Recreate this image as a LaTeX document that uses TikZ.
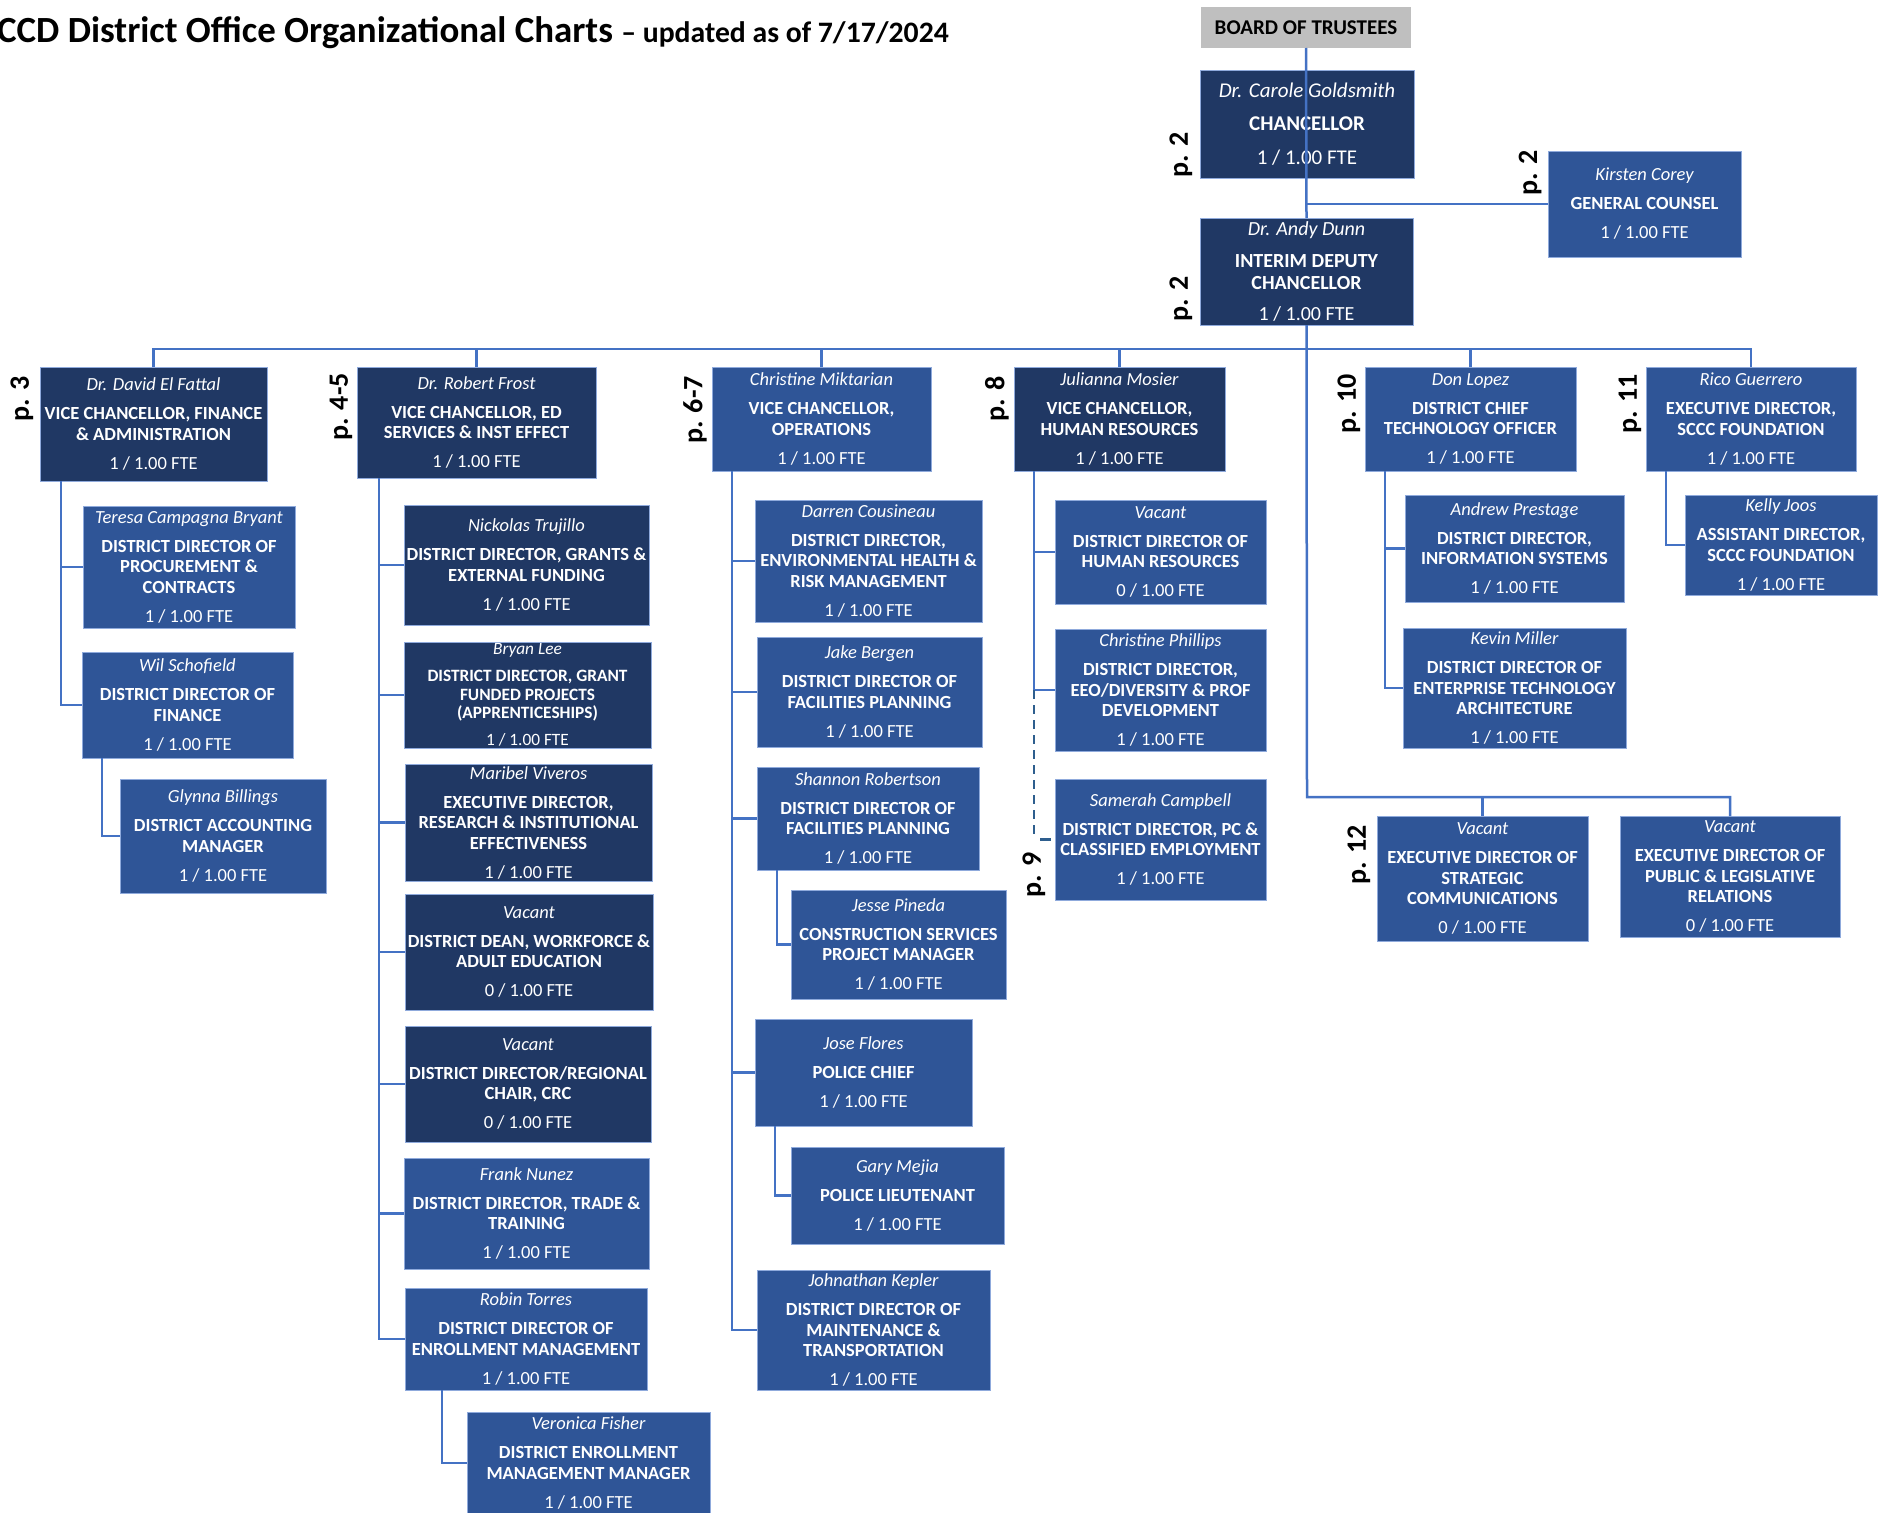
\documentclass[tikz,border=0pt]{standalone}
\usepackage{fontspec}
\setmainfont{Carlito}
\definecolor{dkbox}{HTML}{203864}
\definecolor{ltbox}{HTML}{2F5597}
\definecolor{conn}{HTML}{4472C4}
\definecolor{dashc}{HTML}{2E5E8E}
\definecolor{boardgray}{HTML}{BFBFBF}
\definecolor{boxedge}{HTML}{8FAADC}
\tikzset{
 box/.style={rectangle, draw=boxedge, line width=0.8pt, text=white, align=center,
   inner sep=0pt, outer sep=0pt, font=\fontsize{18.5}{20.5}\selectfont\bfseries},
 dk/.style={fill=dkbox}, lt/.style={fill=ltbox},
 fsm/.style={font=\fontsize{17.3}{18.8}\selectfont\bfseries},
 fchan/.style={font=\fontsize{21}{24}\selectfont\bfseries},
 fint/.style={font=\fontsize{20}{22}\selectfont\bfseries},
 plab/.style={rotate=90, font=\fontsize{28}{30}\selectfont\bfseries, inner sep=0pt},
 cn/.style={draw=conn, line width=2.5pt},
 dcn/.style={draw=dashc, line width=2.5pt, dash pattern=on 9pt off 6pt},
 boardbox/.style={rectangle, fill=boardgray, inner sep=0pt, outer sep=0pt,
   font=\fontsize{21}{24}\selectfont\bfseries},
}
\newcommand\obox[9]{\node[box,#2,minimum width={#5-#3},minimum height={#6-#4}] (#1) at ({(#3+#5)/2},{(#4+#6)/2})
  {{\mdseries\itshape #7}\\[0.46em]#8\\[0.46em]{\mdseries #9}};}
\begin{document}
\begin{tikzpicture}[x=1pt,y=-1pt]
\useasboundingbox (0,0) rectangle (1889,1512);
% title
\node[anchor=base west, inner sep=0pt, font=\bfseries] (title) at (-3,43)
  {\fontsize{36.9}{40}\selectfont CCD District Office Organizational Charts {\fontsize{29.7}{32}\selectfont – updated as of 7/17/2024}};
% top
\node[boardbox, minimum width=210, minimum height=41] (board) at (1306,27.5) {BOARD OF TRUSTEES};
\obox{chan}{dk,fchan}{1200}{70}{1414}{178}{Dr. Carole Goldsmith}{CHANCELLOR}{1 / 1.00 FTE}
\obox{gc}{lt}{1548}{151}{1741}{257}{Kirsten Corey}{GENERAL COUNSEL}{1 / 1.00 FTE}
\obox{interim}{dk,fint}{1200}{218}{1413}{325}{Dr. Andy Dunn}{INTERIM DEPUTY\\CHANCELLOR}{1 / 1.00 FTE}
% VPs
\obox{fattal}{dk}{40}{367}{267}{481}{Dr. David El Fattal}{VICE CHANCELLOR, FINANCE\\\& ADMINISTRATION}{1 / 1.00 FTE}
\obox{frost}{dk}{357}{367}{596}{478}{Dr. Robert Frost}{VICE CHANCELLOR, ED\\SERVICES \& INST EFFECT}{1 / 1.00 FTE}
\obox{mik}{lt}{712}{367}{931}{471}{Christine Miktarian}{VICE CHANCELLOR,\\OPERATIONS}{1 / 1.00 FTE}
\obox{mos}{dk}{1014}{367}{1225}{471}{Julianna Mosier}{VICE CHANCELLOR,\\HUMAN RESOURCES}{1 / 1.00 FTE}
\obox{lopez}{lt}{1365}{367}{1576}{471}{Don Lopez}{DISTRICT CHIEF\\TECHNOLOGY OFFICER}{1 / 1.00 FTE}
\obox{guer}{lt}{1646}{367}{1856}{471}{Rico Guerrero}{EXECUTIVE DIRECTOR,\\SCCC FOUNDATION}{1 / 1.00 FTE}
% Finance
\obox{bryant}{lt}{83}{506}{295}{628}{Teresa Campagna Bryant}{DISTRICT DIRECTOR OF\\PROCUREMENT \&\\CONTRACTS}{1 / 1.00 FTE}
\obox{schof}{lt}{82}{652}{293}{758}{Wil Schofield}{DISTRICT DIRECTOR OF\\FINANCE}{1 / 1.00 FTE}
\obox{bill}{lt}{120}{779}{326}{893}{Glynna Billings}{DISTRICT ACCOUNTING\\MANAGER}{1 / 1.00 FTE}
% Ed services
\obox{truj}{dk}{404}{505}{649}{625}{Nickolas Trujillo}{DISTRICT DIRECTOR, GRANTS \&\\EXTERNAL FUNDING}{1 / 1.00 FTE}
\obox{lee}{dk,fsm}{404}{642}{651}{748}{Bryan Lee}{DISTRICT DIRECTOR, GRANT\\FUNDED PROJECTS\\(APPRENTICESHIPS)}{1 / 1.00 FTE}
\obox{viv}{dk}{405}{764}{652}{881}{Maribel Viveros}{EXECUTIVE DIRECTOR,\\RESEARCH \& INSTITUTIONAL\\EFFECTIVENESS}{1 / 1.00 FTE}
\obox{dean}{dk}{405}{894}{653}{1010}{Vacant}{DISTRICT DEAN, WORKFORCE \&\\ADULT EDUCATION}{0 / 1.00 FTE}
\obox{crc}{dk}{405}{1026}{651}{1142}{Vacant}{DISTRICT DIRECTOR/REGIONAL\\CHAIR, CRC}{0 / 1.00 FTE}
\obox{nunez}{lt}{404}{1158}{649}{1269}{Frank Nunez}{DISTRICT DIRECTOR, TRADE \&\\TRAINING}{1 / 1.00 FTE}
\obox{torres}{lt}{405}{1288}{647}{1390}{Robin Torres}{DISTRICT DIRECTOR OF\\ENROLLMENT MANAGEMENT}{1 / 1.00 FTE}
\obox{fisher}{lt}{467}{1412}{710}{1514}{Veronica Fisher}{DISTRICT ENROLLMENT\\MANAGEMENT MANAGER}{1 / 1.00 FTE}
% Operations
\obox{cous}{lt}{755}{500}{982}{622}{Darren Cousineau}{DISTRICT DIRECTOR,\\ENVIRONMENTAL HEALTH \&\\RISK MANAGEMENT}{1 / 1.00 FTE}
\obox{berg}{lt}{757}{637}{982}{747}{Jake Bergen}{DISTRICT DIRECTOR OF\\FACILITIES PLANNING}{1 / 1.00 FTE}
\obox{rob}{lt}{757}{767}{979}{870}{Shannon Robertson}{DISTRICT DIRECTOR OF\\FACILITIES PLANNING}{1 / 1.00 FTE}
\obox{pin}{lt}{791}{890}{1006}{999}{Jesse Pineda}{CONSTRUCTION SERVICES\\PROJECT MANAGER}{1 / 1.00 FTE}
\obox{flores}{lt}{755}{1019}{972}{1126}{Jose Flores}{POLICE CHIEF}{1 / 1.00 FTE}
\obox{mejia}{lt}{791}{1147}{1004}{1244}{Gary Mejia}{POLICE LIEUTENANT}{1 / 1.00 FTE}
\obox{kep}{lt}{757}{1270}{990}{1390}{Johnathan Kepler}{DISTRICT DIRECTOR OF\\MAINTENANCE \&\\TRANSPORTATION}{1 / 1.00 FTE}
% HR
\obox{hr}{lt}{1055}{500}{1266}{604}{Vacant}{DISTRICT DIRECTOR OF\\HUMAN RESOURCES}{0 / 1.00 FTE}
\obox{phil}{lt}{1055}{629}{1266}{751}{Christine Phillips}{DISTRICT DIRECTOR,\\EEO/DIVERSITY \& PROF\\DEVELOPMENT}{1 / 1.00 FTE}
\obox{camp}{lt}{1055}{779}{1266}{900}{Samerah Campbell}{DISTRICT DIRECTOR, PC \&\\CLASSIFIED EMPLOYMENT}{1 / 1.00 FTE}
% Technology
\obox{prest}{lt}{1405}{495}{1624}{602}{Andrew Prestage}{DISTRICT DIRECTOR,\\INFORMATION SYSTEMS}{1 / 1.00 FTE}
\obox{miller}{lt}{1403}{628}{1626}{748}{Kevin Miller}{DISTRICT DIRECTOR OF\\ENTERPRISE TECHNOLOGY\\ARCHITECTURE}{1 / 1.00 FTE}
% Foundation
\obox{joos}{lt}{1685}{495}{1877}{595}{Kelly Joos}{ASSISTANT DIRECTOR,\\SCCC FOUNDATION}{1 / 1.00 FTE}
% p.12
\obox{strat}{lt}{1377}{816}{1588}{941}{Vacant}{EXECUTIVE DIRECTOR OF\\STRATEGIC\\COMMUNICATIONS}{0 / 1.00 FTE}
\obox{pub}{lt}{1620}{816}{1840}{937}{Vacant}{EXECUTIVE DIRECTOR OF\\PUBLIC \& LEGISLATIVE\\RELATIONS}{0 / 1.00 FTE}
% page labels
\node[plab] (p2a) at (1181,155) {p. 2};
\node[plab] (p2b) at (1181,299) {p. 2};
\node[plab] (p2c) at (1530,173) {p. 2};
\node[plab] (p3) at (22,399) {p. 3};
\node[plab] (p45) at (341,407) {p. 4-5};
\node[plab] (p67) at (695,410) {p. 6-7};
\node[plab] (p8) at (997,399) {p. 8};
\node[plab] (p10) at (1349,404) {p. 10};
\node[plab] (p11) at (1630,404) {p. 11};
\node[plab] (p9) at (1034,875) {p. 9};
\node[plab] (p12) at (1359,855) {p. 12};
% connectors: top
\draw[cn] (board.south) -- (interim.north);
\draw[cn] (gc.west) -- (gc.west -| chan.south);
\coordinate (b12) at (1307,797);
\draw[cn] (interim.south) -- (b12) -| (pub.north);
\draw[cn] (strat.north) -- (strat.north |- b12);
\coordinate (bus) at (1307,349);
\draw[cn] (fattal.north) |- (bus) -| (guer.north);
\foreach \n in {frost,mik,mos,lopez} \draw[cn] (\n.north) -- (\n.north |- bus);
% finance
\coordinate (fv) at ([xshift=21pt]fattal.south west);
\draw[cn] (fv) |- (schof.west);
\draw[cn] (bryant.west) -- (bryant.west -| fv);
\coordinate (sv) at ([xshift=20pt]schof.south west);
\draw[cn] (sv) |- (bill.west);
% ed services
\coordinate (frv) at ([xshift=22pt]frost.south west);
\draw[cn] (frv) |- (torres.west);
\foreach \n in {truj,lee,viv,dean,crc,nunez} \draw[cn] (\n.west) -- (\n.west -| frv);
\coordinate (tv) at ([xshift=37pt]torres.south west);
\draw[cn] (tv) |- (fisher.west);
% operations
\coordinate (mv) at ([xshift=20pt]mik.south west);
\draw[cn] (mv) |- (kep.west);
\foreach \n in {cous,berg,rob,flores} \draw[cn] (\n.west) -- (\n.west -| mv);
\coordinate (rv) at ([xshift=20pt]rob.south west);
\draw[cn] (rv) |- (pin.west);
\coordinate (flv) at ([xshift=20pt]flores.south west);
\draw[cn] (flv) |- (mejia.west);
% HR
\coordinate (mosv) at ([xshift=20pt]mos.south west);
\draw[cn] (mosv) |- (phil.west);
\draw[cn] (hr.west) -- (hr.west -| mosv);
\draw[dcn] (mosv |- phil.west) -- (mosv |- camp.west);
\draw[draw=dashc, line width=2.5pt] ([xshift=-15pt]camp.west) -- ([xshift=-4pt]camp.west);
% technology
\coordinate (lv) at ([xshift=20pt]lopez.south west);
\draw[cn] (lv) |- (miller.west);
\draw[cn] (prest.west) -- (prest.west -| lv);
% foundation
\coordinate (gv) at ([xshift=20pt]guer.south west);
\draw[cn] (gv) |- (joos.west);
\end{tikzpicture}
\end{document}
